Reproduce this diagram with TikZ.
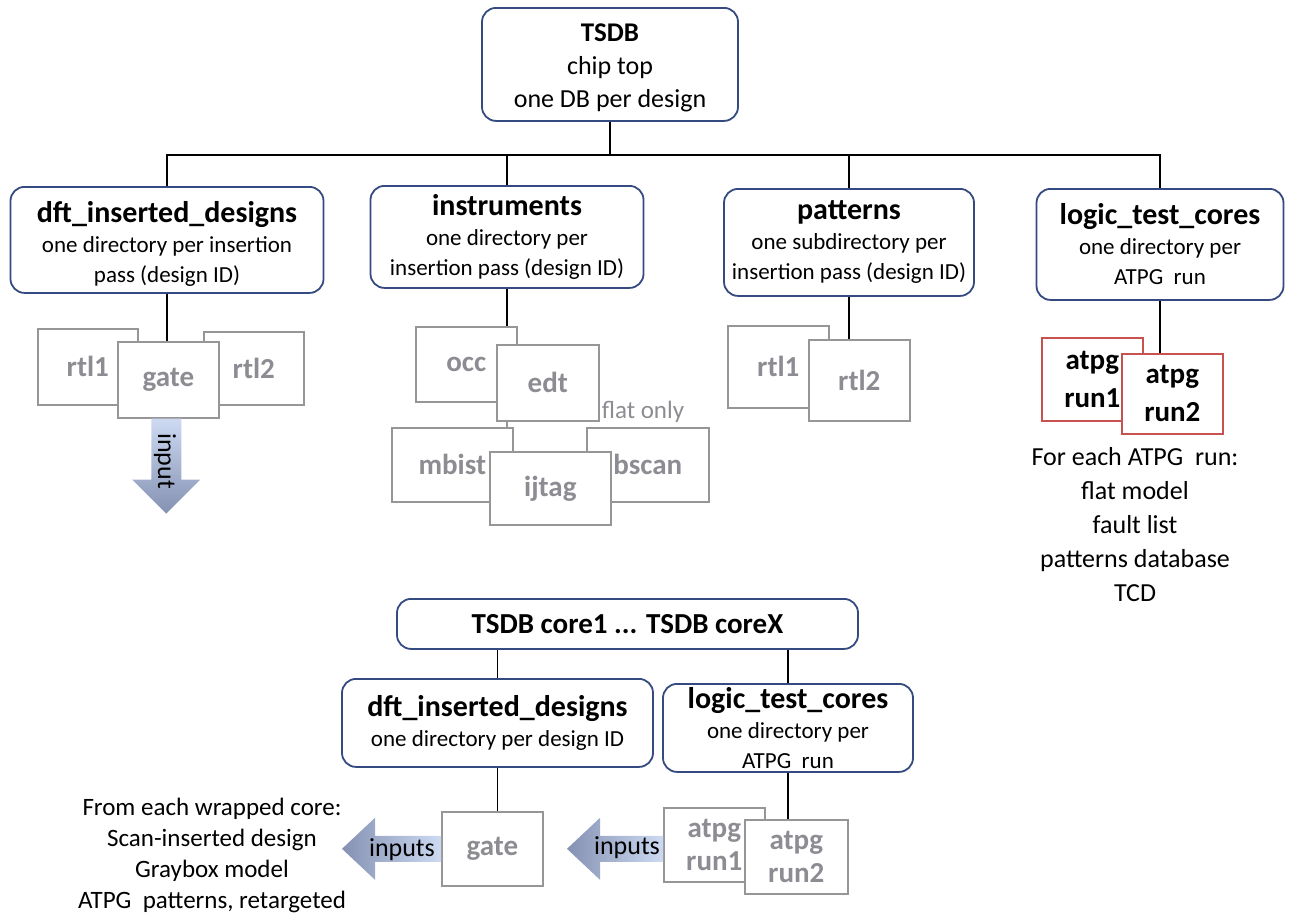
\documentclass[tikz,border=0pt]{standalone}
\usepackage{fontspec}
\setmainfont{Carlito}

\definecolor{dirblue}{RGB}{52,74,128}
\definecolor{leafgray}{RGB}{150,150,150}
\definecolor{leaftext}{RGB}{140,140,146}
\definecolor{runred}{RGB}{200,82,80}
\definecolor{flowlight}{RGB}{205,218,242}
\definecolor{flowdark}{RGB}{132,145,178}

\newcommand{\dirtitle}{\bfseries\fontsize{30}{30}\selectfont}

\begin{document}
\begin{tikzpicture}[x=1pt, y=-1pt,
    dirbox/.style={draw=dirblue, line width=1.8pt, rounded corners=14pt, fill=white,
        align=center, inner sep=0pt, anchor=north, font=\fontsize{23}{30}\selectfont},
    leaf/.style={draw=leafgray, line width=1.6pt, fill=white, text=leaftext, align=center,
        inner sep=0pt, anchor=north west, font=\bfseries\fontsize{29}{33}\selectfont},
    runbox/.style={leaf, draw=runred, text=black, font=\bfseries\fontsize{29}{38}\selectfont},
    link/.style={line width=1.5pt},
    flowlabel/.style={font=\fontsize{26}{30}\selectfont},
    notes/.style={align=center}]

    \useasboundingbox (0,0) rectangle (1289,916);

    % Chip level database
    \node[dirbox, minimum width=256, minimum height=113, font=\fontsize{26}{33}\selectfont] (tsdb) at (610,7)
        {{\bfseries\fontsize{27}{33}\selectfont\rule{0pt}{24pt}TSDB}\\chip top\\one DB per design};

    % Second level directories
    \node[dirbox, minimum width=313, minimum height=106] (dft) at (167,186)
        {{\dirtitle\rule{0pt}{30pt}dft\_inserted\_designs}\\one directory per insertion\\pass (design ID)};
    \node[dirbox, minimum width=273, minimum height=102] (instr) at (507,185)
        {{\dirtitle instruments}\\one directory per\\insertion pass (design ID)};
    \node[dirbox, minimum width=250, minimum height=107] (patt) at (849,188)
        {{\dirtitle patterns}\\one subdirectory per\\insertion pass (design ID)};
    \node[dirbox, minimum width=247, minimum height=111] (logic) at (1160,188)
        {{\dirtitle logic\_test\_cores}\\one directory per\\ATPG~~run};

    % Bus from chip top
    \draw[link] (tsdb.south) -- ++(0,33) coordinate (bus);
    \draw[link] (dft.north) |- (bus);
    \draw[link] (logic.north) |- (bus);
    \draw[link] (instr.north) -- (instr.north |- bus);
    \draw[link] (patt.north) -- (patt.north |- bus);

    % Design IDs
    \node[leaf, minimum width=100, minimum height=76] (rtlonea) at (37,328) {rtl1};
    \node[leaf, minimum width=100, minimum height=73] (rtltwoa) at (203,331) {rtl2};
    \node[leaf, minimum width=101, minimum height=76] (gate) at (117,341) {gate};
    \draw[link] (dft.south) -- (dft.south |- gate.north);

    % Instruments
    \node[leaf, minimum width=101, minimum height=75] (occ) at (415,326) {occ};
    \node[leaf, minimum width=102, minimum height=76] (edt) at (496,344) {edt};
    \node[leaf, minimum width=121, minimum height=74] (mbist) at (391,427) {mbist};
    \node[leaf, minimum width=122, minimum height=74] (bscan) at (586,427) {bscan};
    \node[leaf, minimum width=121, minimum height=73] (ijtag) at (489,451) {ijtag};
    \node[text=leaftext, font=\fontsize{25}{30}\selectfont] (flatonly) at (643,412) {flat only};
    \draw[link] (instr.south) -- (instr.south |- occ.north);
    \draw[leafgray, line width=1.5pt] (instr.south |- edt.south) -- (instr.south |- mbist.north);

    % Patterns
    \node[leaf, minimum width=101, minimum height=82] (rtloneb) at (727,325) {rtl1};
    \node[leaf, minimum width=101, minimum height=81] (rtltwob) at (808,339) {rtl2};
    \draw[link] (patt.south) -- (patt.south |- rtltwob.north);

    % ATPG runs
    \node[runbox, minimum width=101, minimum height=83] (runonea) at (1041,337) {atpg\\run1};
    \node[runbox, minimum width=101, minimum height=80] (runtwoa) at (1121,353) {atpg\\run2};
    \draw[link] (logic.south) -- (logic.south |- runtwoa.north);
    \node[notes, font=\fontsize{26}{34}\selectfont] (runnotes) at (1135,525)
        {For each ATPG~~run:\\flat model\\fault list\\patterns database\\TCD};

    % input arrow
    \shade[top color=flowlight, bottom color=flowdark] ([xshift=-17pt]gate.south) -- ++(0,61) -- ++(-19,0)
        -- ++(34,34) -- ++(34,-34) -- ++(-19,0) -- ++(0,-61) -- cycle;
    \node[flowlabel, rotate=-90] (inputlbl) at (165,461) {input};

    % Wrapped cores
    \node[dirbox, minimum width=461, minimum height=50, font=\bfseries\fontsize{29}{30}\selectfont] (core) at (627.5,598)
        {TSDB core1 ... TSDB coreX};
    \node[dirbox, minimum width=311, minimum height=88] (dfttwo) at (497.5,678)
        {{\dirtitle dft\_inserted\_designs}\\one directory per design ID};
    \node[dirbox, minimum width=250, minimum height=88] (logictwo) at (788,683)
        {{\dirtitle logic\_test\_cores}\\one directory per\\ATPG~~run};
    \draw[link] (dfttwo.north) -- (dfttwo.north |- core.south);
    \draw[link] (logictwo.north) -- (logictwo.north |- core.south);

    \node[leaf, minimum width=101, minimum height=74] (gatetwo) at (441,811) {gate};
    \node[leaf, minimum width=101, minimum height=74] (runonec) at (663,807) {atpg\\run1};
    \node[leaf, minimum width=103, minimum height=74] (runtwoc) at (744,819) {atpg\\run2};
    \draw[link] (dfttwo.south) -- (dfttwo.south |- gatetwo.north);
    \draw[link] (logictwo.south) -- (logictwo.south |- runtwoc.north);

    % inputs arrows
    \shade[left color=flowdark, right color=flowlight] ([yshift=13pt]gatetwo.west) -- ++(-66,0) -- ++(0,-18)
        -- ++(-33,31) -- ++(33,31) -- ++(0,-18) -- ++(66,0) -- cycle;
    \node[flowlabel] (inputsa) at (402,850) {inputs};
    \shade[left color=flowdark, right color=flowlight] ([yshift=9pt]runonec.west) -- ++(-63,0) -- ++(0,-18)
        -- ++(-33,31) -- ++(33,31) -- ++(0,-18) -- ++(63,0) -- cycle;
    \node[flowlabel] (inputsb) at (627,848) {inputs};

    \node[notes, font=\fontsize{25}{31}\selectfont] (corenotes) at (212,855)
        {From each wrapped core:\\Scan-inserted design\\Graybox model\\ATPG~~patterns, retargeted};

\end{tikzpicture}
\end{document}
